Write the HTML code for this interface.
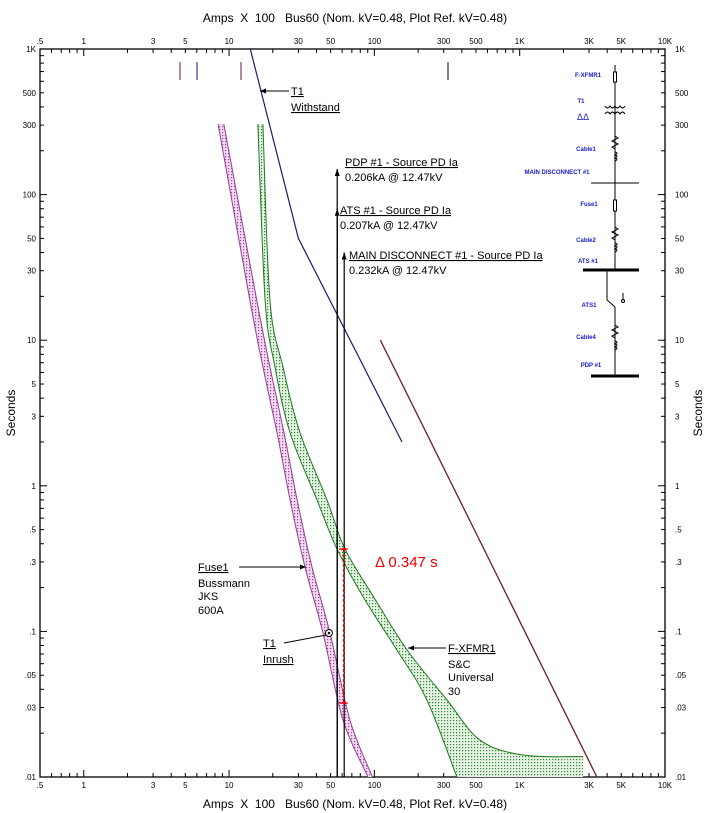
<!DOCTYPE html>
<html><head><meta charset="utf-8">
<style>
body{margin:0;background:#fff;}
svg{display:block;font-family:"Liberation Sans",sans-serif;}
</style></head>
<body>
<svg id="c" width="710" height="813" viewBox="0 0 710 813">
<defs>
<pattern id="pg" width="3" height="3" patternUnits="userSpaceOnUse"><rect width="3" height="3" fill="#e6f3e6"/><rect width="1.2" height="1.2" fill="#2a8a2a"/></pattern>
<pattern id="pp" width="3" height="3" patternUnits="userSpaceOnUse"><rect width="3" height="3" fill="#f0dcf0"/><rect width="1.2" height="1.2" fill="#a040a0"/></pattern>
</defs>
<g id="axes"></g>
<g id="marks"></g>
</svg>
<script>
// ---- data ----
const xTickVals=[0.5,1,3,5,10,30,50,100,300,500,1000,3000,5000,10000];
const xTickLabels=[".5","1","3","5","10","30","50","100","300","500","1K","3K","5K","10K"];
const yTickVals=[1000,500,300,100,50,30,10,5,3,1,0.5,0.3,0.1,0.05,0.03,0.01];
const yTickLabels=["1K","500","300","100","50","30","10","5","3","1",".5",".3",".1",".05",".03",".01"];
const t1Withstand=[[14,1000],[30,50],[155,2]];
const maroonCurve=[[110,10],[3400,0.01]];
const fuseMin=[[8.4,305],[13.9,18.9],[17.1,6.55],[21.4,2.31],[26.3,0.8],[33.3,0.277],[44.3,0.0975],[60.8,0.0246],[90.4,0.01]];
const fuseMax=[[9.2,305],[15.5,18.9],[19.1,6.55],[23.9,2.31],[29.4,0.8],[37.2,0.277],[49.5,0.0975],[67.9,0.0246],[97,0.01]];
const xfmrMin=[[15.8,305],[17.7,18.9],[20.7,6.55],[26.3,2.31],[40.3,0.8],[55.3,0.368],[86.3,0.164],[143,0.0745],[230,0.0338],[370,0.01]];
const xfmrMax=[[17.1,305],[19.1,18.9],[23.5,6.55],[30.8,2.31],[47.2,0.8],[62.8,0.368],[102,0.164],[168,0.0745],[316,0.0338],[534,0.0179],[1054,0.01415],[2730,0.0138],[2730,0.01]];
const pdpAmps=55.5, atsAmps=55.5, mainAmps=62;
const pdpTime=150, atsTime=80, mainTime=40;
const inrush=[48.7,0.0975];
const deltaAmps=61.5, deltaTop=0.368, deltaBot=0.0322;

// ---- axis functions ----
const L=40,R=665,T=49,B=777;
const X=a=>L+(R-L)*Math.log10(a/0.5)/Math.log10(20000);
const Y=t=>T+(B-T)*(3-Math.log10(t))/5;
const NS="http://www.w3.org/2000/svg";
function mk(tag,attrs,parent){const e=document.createElementNS(NS,tag);for(const k in attrs)e.setAttribute(k,attrs[k]);parent.appendChild(e);return e;}
const ax=document.getElementById('axes'),mg=document.getElementById('marks');

const frame=mk('rect',{x:L,y:T,width:R-L,height:B-T,fill:'none',stroke:'#000','stroke-width':1.3},ax);


for(let d=-1;d<=4;d++)for(let m=1;m<10;m++){const a=m*Math.pow(10,d);if(a<0.5||a>10000)continue;const x=X(a);const len=(m===1)?7:4;
mk('line',{x1:x,y1:T,x2:x,y2:T+len,stroke:'#000'},ax);mk('line',{x1:x,y1:B,x2:x,y2:B-len,stroke:'#000'},ax);}
for(let d=-2;d<=2;d++)for(let m=1;m<10;m++){const t=m*Math.pow(10,d);if(t<0.01||t>1000)continue;const y=Y(t);const len=(m===1)?7:4;
mk('line',{x1:L,y1:y,x2:L+len,y2:y,stroke:'#000'},ax);mk('line',{x1:R,y1:y,x2:R-len,y2:y,stroke:'#000'},ax);}
xTickVals.forEach((v,i)=>{
 const a=mk('text',{x:X(v),y:T-5,'font-size':8,'text-anchor':'middle'},ax);a.textContent=xTickLabels[i];
 
 
 const b=mk('text',{x:X(v),y:B+11,'font-size':8,'text-anchor':'middle'},ax);b.textContent=xTickLabels[i];
 
 
});
yTickVals.forEach((v,i)=>{
 const a=mk('text',{x:L-4,y:Y(v)+3,'font-size':8,'text-anchor':'end'},ax);a.textContent=yTickLabels[i];
 
 
 const b=mk('text',{x:R+10,y:Y(v)+3,'font-size':8},ax);b.textContent=yTickLabels[i];
 
 
});
function pts(p){return p.map(q=>[X(q[0]),Y(q[1])]);}
function smooth(P){let d='M'+P[0][0].toFixed(1)+','+P[0][1].toFixed(1);
 for(let i=0;i<P.length-1;i++){const p0=P[i-1]||P[i],p1=P[i],p2=P[i+1],p3=P[i+2]||p2;
  const c1=[p1[0]+(p2[0]-p0[0])/6,p1[1]+(p2[1]-p0[1])/6],c2=[p2[0]-(p3[0]-p1[0])/6,p2[1]-(p3[1]-p1[1])/6];
  d+=`C${c1[0].toFixed(1)},${c1[1].toFixed(1)} ${c2[0].toFixed(1)},${c2[1].toFixed(1)} ${p2[0].toFixed(1)},${p2[1].toFixed(1)}`;}
 return d;}
function line(p){return pts(p).map((q,i)=>(i?'L':'M')+q[0].toFixed(1)+','+q[1].toFixed(1)).join('');}
function band(a,b){const A=pts(a),Bp=pts(b).reverse();return smooth(A)+'L'+smooth(Bp).slice(1)+'Z';}
const fb=mk('path',{d:band(fuseMin,fuseMax),fill:'url(#pp)',stroke:'none'},mg);


mk('path',{d:smooth(pts(fuseMin)),fill:'none',stroke:'#9a3a9a','stroke-width':1},mg);
mk('path',{d:smooth(pts(fuseMax)),fill:'none',stroke:'#9a3a9a','stroke-width':1},mg);
const xb=mk('path',{d:band(xfmrMin,xfmrMax.slice(0,-1)),fill:'url(#pg)',stroke:'none'},mg);


const lastTwo=xfmrMax.slice(-2);
const xf2=mk('path',{d:line([xfmrMin[xfmrMin.length-1],lastTwo[1],lastTwo[0]])+'Z',fill:'url(#pg)',stroke:'none'},mg);


mk('path',{d:smooth(pts(xfmrMin)),fill:'none',stroke:'#1f7a1f','stroke-width':1},mg);
mk('path',{d:smooth(pts(xfmrMax.slice(0,-1))),fill:'none',stroke:'#1f7a1f','stroke-width':1},mg);
const tw=mk('path',{d:line(t1Withstand),fill:'none',stroke:'#1a1a6e','stroke-width':1.2},mg);


const mc=mk('path',{d:line(maroonCurve),fill:'none',stroke:'#6e1a2a','stroke-width':1.3},mg);


[[pdpAmps,pdpTime],[atsAmps,atsTime],[mainAmps,mainTime]].forEach(p=>{
 const x=X(p[0]),y=Y(p[1]);
 const l=mk('line',{x1:x,y1:y,x2:x,y2:B,stroke:'#000','stroke-width':1.2},mg);
 
 
 mk('path',{d:`M${x-2.5},${y+7}L${x},${y}L${x+2.5},${y+7}Z`,fill:'#000'},mg);
});
const dx=X(deltaAmps);
const dl=mk('line',{x1:dx,y1:Y(deltaTop),x2:dx,y2:Y(deltaBot),stroke:'#e00','stroke-width':1.5,'stroke-dasharray':'3,2'},mg);


[deltaTop,deltaBot].forEach(t=>{mk('line',{x1:dx-4,y1:Y(t),x2:dx+4,y2:Y(t),stroke:'#e00','stroke-width':1.5},mg);});
const ip=mk('circle',{cx:X(inrush[0]),cy:Y(inrush[1]),r:3.5,fill:'#fff',stroke:'#000'},mg);


mk('circle',{cx:X(inrush[0]),cy:Y(inrush[1]),r:1.3,fill:'#000'},mg);
</script>
<svg width="710" height="813" style="position:absolute;left:0;top:0" font-family="Liberation Sans, sans-serif">
 <text x="355" y="22" font-size="12" text-anchor="middle" style="white-space:pre">Amps  X  100   Bus60 (Nom. kV=0.48, Plot Ref. kV=0.48)</text>
 <text x="355" y="808" font-size="12" text-anchor="middle" style="white-space:pre">Amps  X  100   Bus60 (Nom. kV=0.48, Plot Ref. kV=0.48)</text>
 <text transform="translate(15,413) rotate(-90)" font-size="12" text-anchor="middle">Seconds</text>
 <text transform="translate(702,413) rotate(-90)" font-size="12" text-anchor="middle">Seconds</text>
 <g>
  <line x1="180" y1="62" x2="180" y2="80" stroke="#6e1a2a"/><line x1="197" y1="62" x2="197" y2="80" stroke="#1a1a6e"/><line x1="241" y1="62" x2="241" y2="80" stroke="#6e1a2a"/><line x1="448" y1="62" x2="448" y2="80" stroke="#000"/>
 </g>
 <g font-size="11">
  <line x1="260" y1="91" x2="289" y2="91" stroke="#000"/><path d="M260,91l6,-2.5v5z"/>
  <text x="291" y="95" text-decoration="underline">T1</text><text x="291" y="111" text-decoration="underline">Withstand</text>
  <text x="345" y="166" text-decoration="underline">PDP #1 - Source PD Ia</text><text x="345" y="181">0.206kA @ 12.47kV</text>
  <text x="340" y="214" text-decoration="underline">ATS #1 - Source PD Ia</text><text x="340" y="229">0.207kA @ 12.47kV</text>
  <text x="349" y="259" text-decoration="underline">MAIN DISCONNECT #1 - Source PD Ia</text><text x="349" y="274">0.232kA @ 12.47kV</text>
  <line x1="239" y1="567" x2="306" y2="567" stroke="#000"/><path d="M306,567l-6,-2.5v5z"/>
  <text x="198" y="571" text-decoration="underline">Fuse1</text><text x="198" y="587">Bussmann</text><text x="198" y="600">JKS</text><text x="198" y="614">600A</text>
  <line x1="284" y1="643" x2="326" y2="635" stroke="#000"/>
  <text x="263" y="647" text-decoration="underline">T1</text><text x="263" y="663" text-decoration="underline">Inrush</text>
  <line x1="408" y1="648" x2="446" y2="648" stroke="#000"/><path d="M408,648l6,-2.5v5z"/>
  <text x="448" y="652" text-decoration="underline">F-XFMR1</text><text x="448" y="668">S&amp;C</text><text x="448" y="681">Universal</text><text x="448" y="695">30</text>
  <text x="375" y="567" font-size="15" fill="#e00">Δ 0.347 s</text>
 </g>
 <g stroke="#000" fill="none" stroke-width="1">
  <line x1="615" y1="65" x2="615" y2="270"/>
  <rect x="613.5" y="72" width="3" height="10" fill="#fff"/>
  <path d="M605,106q2.5,4 5,0q2.5,4 5,0q2.5,4 5,0q2.5,4 5,0M605,114q2.5,-4 5,0q2.5,-4 5,0q2.5,-4 5,0q2.5,-4 5,0" />
  <path d="M615,136l3,2l-6,3l6,3l-6,3l3,2M615,152q4,1 0,3q4,1 0,3q4,1 0,3"/>
  <line x1="591" y1="183" x2="639" y2="183"/>
  <rect x="613.5" y="200" width="3" height="11" fill="#fff"/>
  <path d="M615,227l3,2l-6,3l6,3l-6,3l3,2M615,243q4,1 0,3q4,1 0,3q4,1 0,3"/>
  <line x1="583" y1="270" x2="639" y2="270" stroke-width="3"/>
  <line x1="607" y1="270" x2="607" y2="300"/><line x1="607" y1="300" x2="615" y2="307"/><line x1="615" y1="307" x2="615" y2="375"/>
  <line x1="623" y1="293" x2="623" y2="300"/><circle cx="623" cy="301" r="1.5"/>
  <path d="M615,325l3,2l-6,3l6,3l-6,3l3,2M615,341q4,1 0,3q4,1 0,3q4,1 0,3"/>
  <line x1="591" y1="376" x2="639" y2="376" stroke-width="3"/>
 </g>
 <g font-size="6" font-weight="bold" fill="#1a1acc" text-anchor="middle">
  <text x="588" y="77">F-XFMR1</text><text x="581" y="103">T1</text><text x="583" y="120" font-size="9" font-weight="normal">ΔΔ</text>
  <text x="586" y="151">Cable1</text><text x="557" y="174">MAIN DISCONNECT #1</text><text x="589" y="206">Fuse1</text>
  <text x="586" y="242">Cable2</text><text x="588" y="263">ATS #1</text><text x="589" y="307">ATS1</text>
  <text x="586" y="339">Cable4</text><text x="591" y="367">PDP #1</text>
 </g>
</svg>
</body></html>
